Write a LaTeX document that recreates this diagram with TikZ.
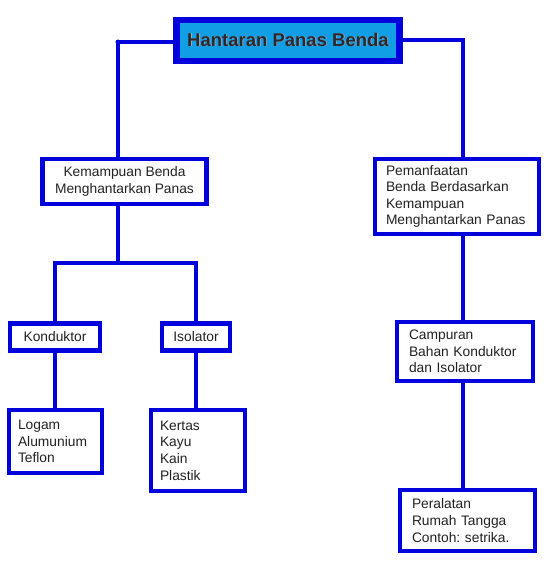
\documentclass[tikz,border=0pt]{standalone}
\usepackage{fontspec}
\setmainfont{Liberation Sans}
\frenchspacing
\definecolor{lineblue}{RGB}{0,0,220}
\definecolor{titlefill}{RGB}{18,158,228}
\definecolor{txt}{RGB}{34,34,34}
\definecolor{shadowgray}{RGB}{170,170,175}
\definecolor{titletxt}{RGB}{40,40,48}
\begin{document}
\begin{tikzpicture}[x=1pt,y=1pt,
  box/.style={draw=lineblue,line width=4.5pt,fill=white,inner sep=0pt,
    font=\fontsize{13.8}{16.6}\selectfont,text=txt},
  link/.style={draw=lineblue,line width=3.2pt},
  ttext/.style={font=\bfseries\fontsize{18.5}{20}\selectfont},
]
\useasboundingbox (0,0) rectangle (551,-565);
% title
\node[draw=lineblue,line width=6.5pt,fill=titlefill,minimum width=223pt,minimum height=41pt,inner sep=0pt]
  (title) at (288,-40.5) {};
\node[ttext,text=shadowgray] (titleshadow) at (288.8,-40.3) {Hantaran Panas Benda};
\node[ttext,text=titletxt] (titletext) at (288,-39.5) {Hantaran Panas Benda};
% level 1
\node[box,minimum width=164pt,minimum height=45pt,align=center] (kem) at (124.5,-181.5)
  {Kemampuan Benda\\Menghantarkan Panas};
\node[box,minimum width=164pt,minimum height=75pt,text width=142pt,align=left] (pem) at (457,-196.5)
  {Pemanfaatan\\Benda Berdasarkan\\Kemampuan\\Menghantarkan Panas};
% level 2
\node[box,minimum width=90pt,minimum height=27pt,align=center] (kon) at (55,-337) {Konduktor};
\node[box,minimum width=68pt,minimum height=27pt,align=center] (iso) at (196,-337) {Isolator};
\node[box,minimum width=136pt,minimum height=59pt,text width=112pt,align=left] (cam) at (465,-351.5)
  {Campuran\\Bahan Konduktor\\dan Isolator};
% level 3
\node[box,minimum width=93pt,minimum height=63pt,text width=75pt,align=left] (log) at (55.5,-441.5)
  {Logam\\Alumunium\\Teflon};
\node[box,minimum width=94pt,minimum height=81pt,text width=76pt,align=left] (ker) at (198,-450.5)
  {Kertas\\Kayu\\Kain\\Plastik};
\node[box,minimum width=135pt,minimum height=61pt,text width=111pt,align=left] (per) at (467.5,-520.5)
  {Peralatan\\Rumah Tangga\\Contoh: setrika.};
% connectors
\coordinate (j1) at (118,-42);
\coordinate (j2) at (463,-40);
\coordinate (j3) at (118,-263);
\draw[link] (title.west |- j1) -- (j1) -- (j1 |- kem.north);
\fill[lineblue] (j1) circle (2.5pt);
\draw[link] (title.east |- j2) -- (j2) -- (j2 |- pem.north);
\draw[link] (j3 |- kem.south) -- (j3);
\draw[link] (kon.north) |- (j3) -| (iso.north);
\draw[link] (kon.south) -- (kon.south |- log.north);
\draw[link] (iso.south) -- (iso.south |- ker.north);
\draw[link] (j2 |- pem.south) -- (j2 |- cam.north);
\draw[link] (j2 |- cam.south) -- (j2 |- per.north);
\end{tikzpicture}
\end{document}
